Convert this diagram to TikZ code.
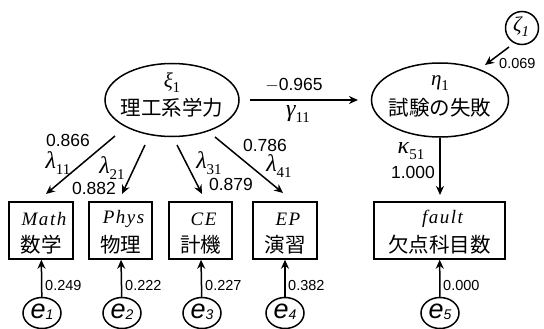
\documentclass[tikz,border=0pt]{standalone}
\usepackage{fontspec}
\setmainfont{Liberation Sans}
\newfontfamily\cjk{Noto Sans CJK JP}
\newfontfamily\gsym{Liberation Serif}
\newfontfamily\bsym[LetterSpace=8]{Liberation Serif}
\usetikzlibrary{arrows.meta,shapes.geometric}
\tikzset{
  ell/.style={draw, ellipse, line width=1.5pt, inner sep=0pt},
  box/.style={draw, rectangle, line width=1.5pt, inner sep=0pt},
  err/.style={draw, ellipse, line width=1.5pt, inner sep=0pt, minimum width=38pt, minimum height=31pt},
  arr/.style={-{Stealth[length=9pt,width=8pt]}, line width=1.5pt},
  cjkt/.style={inner sep=0pt, font=\cjk\fontsize{20.5}{22}\selectfont},
  mtxt/.style={inner sep=0pt, font=\bsym\itshape\fontsize{19}{20}\selectfont},
  gtxt/.style={inner sep=0pt, font=\fontsize{24}{26}\selectfont},
  ltxt/.style={inner sep=0pt, font=\fontsize{21}{23}\selectfont},
  num/.style={inner sep=0pt, font=\fontsize{17.5}{19}\selectfont},
  snum/.style={inner sep=0pt, anchor=west, font=\fontsize{14.5}{15}\selectfont},
  etxt/.style={inner sep=0pt, font=\fontsize{27}{27}\selectfont\itshape},
}
\newcommand{\esub}[1]{e\raisebox{-1pt}{\fontsize{14}{14}\selectfont #1}}
\newcommand{\gvar}[2]{{\gsym\itshape #1}\raisebox{-0.25em}{\gsym\fontsize{15}{15}\selectfont #2}}
\begin{document}
\begin{tikzpicture}[x=1pt,y=-1pt]
\useasboundingbox (0,0) rectangle (544,329);
% latent variables
\node[ell, minimum width=134pt, minimum height=73pt] (xi) at (172,100) {};
\node[ltxt] (xil) at (172,83) {\gvar{ξ}{1}};
\node[cjkt] (xit) at (172,108) {理工系学力};
\node[ell, minimum width=137pt, minimum height=74pt] (eta) at (440,100) {};
\node[ltxt] (etal) at (440,83) {\gvar{η}{1}};
\node[cjkt] (etat) at (440,108) {試験の失敗};
\node[draw, circle, line width=1.5pt, minimum size=33pt, inner sep=0pt] (zeta) at (522,28) {};
\node[ltxt] (zetal) at (521,27) {\gvar{ζ}{\itshape 1}};
% observed boxes
\node[box, minimum width=64pt, minimum height=57pt] (math) at (41,230.5) {};
\node[box, minimum width=63pt, minimum height=57pt] (phys) at (120.5,230.5) {};
\node[box, minimum width=63pt, minimum height=57pt] (ce) at (200.5,230.5) {};
\node[box, minimum width=64pt, minimum height=57pt] (ep) at (285,230.5) {};
\node[box, minimum width=131pt, minimum height=57pt] (fault) at (439.5,230.5) {};
\node[mtxt] (mathl) at (44,219) {Math};
\node[cjkt] (matht) at (41,245) {数学};
\node[mtxt] (physl) at (123.5,219) {Phys};
\node[cjkt] (physt) at (120.5,245) {物理};
\node[mtxt] (cel) at (203.5,219) {CE};
\node[cjkt] (cet) at (200.5,245) {計機};
\node[mtxt] (epl) at (288,219) {EP};
\node[cjkt] (ept) at (285,245) {演習};
\node[mtxt] (faultl) at (442.5,219) {fault};
\node[cjkt] (faultt) at (439.5,245) {欠点科目数};
% errors
\node[err] (e1) at (42,313) {};
\node[etxt] (e1l) at (42,312) {\esub{1}};
\node[err] (e2) at (122,313) {};
\node[etxt] (e2l) at (122,312) {\esub{2}};
\node[err] (e3) at (202,313) {};
\node[etxt] (e3l) at (202,312) {\esub{3}};
\node[err] (e4) at (285,313) {};
\node[etxt] (e4l) at (285,312) {\esub{4}};
\node[err] (e5) at (440,313) {};
\node[etxt] (e5l) at (440,312) {\esub{5}};
% structural path
\coordinate (g0) at (250,100);
\coordinate (g1) at (358,100);
\draw[arr] (g0) -- (g1);
\node[num] (gv) at (294,85) {$-$0.965};
\node[gtxt] (gl) at (298,114) {\gvar{γ}{11}};
% zeta
\coordinate (z0) at (509,47);
\coordinate (z1) at (485,65);
\draw[arr] (z0) -- (z1);
\node[snum] (zv) at (499,64) {0.069};
% loadings
\coordinate (s1) at (115,136); \coordinate (t1) at (46,194);
\coordinate (s2) at (145,145); \coordinate (t2) at (122,194);
\coordinate (s3) at (177,145); \coordinate (t3) at (202,194);
\coordinate (s4) at (215,137); \coordinate (t4) at (283,193);
\coordinate (s5) at (440,138); \coordinate (t5) at (440,195);
\draw[arr] (s1) -- (t1);
\draw[arr] (s2) -- (t2);
\draw[arr] (s3) -- (t3);
\draw[arr] (s4) -- (t4);
\draw[arr] (s5) -- (t5);
\node[num] (v1) at (68,140) {0.866};
\node[gtxt] (l1) at (58,163) {\gvar{λ}{11}};
\node[gtxt] (l2) at (112,168) {\gvar{λ}{21}};
\node[num] (v2) at (94,188) {0.882};
\node[gtxt] (l3) at (209,163) {\gvar{λ}{31}};
\node[num] (v3) at (231,184) {0.879};
\node[num] (v4) at (265,145) {0.786};
\node[gtxt] (l4) at (279,166) {\gvar{λ}{41}};
\node[gtxt] (k5) at (411,151) {\gvar{κ}{51}};
\node[num] (v5) at (413,172) {1.000};
% error arrows
\draw[arr] (e1) -- (math);
\draw[arr] (e2) -- (phys);
\draw[arr] (e3) -- (ce);
\draw[arr] (e4) -- (ep);
\draw[arr] (e5) -- (fault);
\node[snum] (ev1) at (45,286) {0.249};
\node[snum] (ev2) at (125,286) {0.222};
\node[snum] (ev3) at (205,286) {0.227};
\node[snum] (ev4) at (288,286) {0.382};
\node[snum] (ev5) at (443,286) {0.000};
\end{tikzpicture}
\end{document}
